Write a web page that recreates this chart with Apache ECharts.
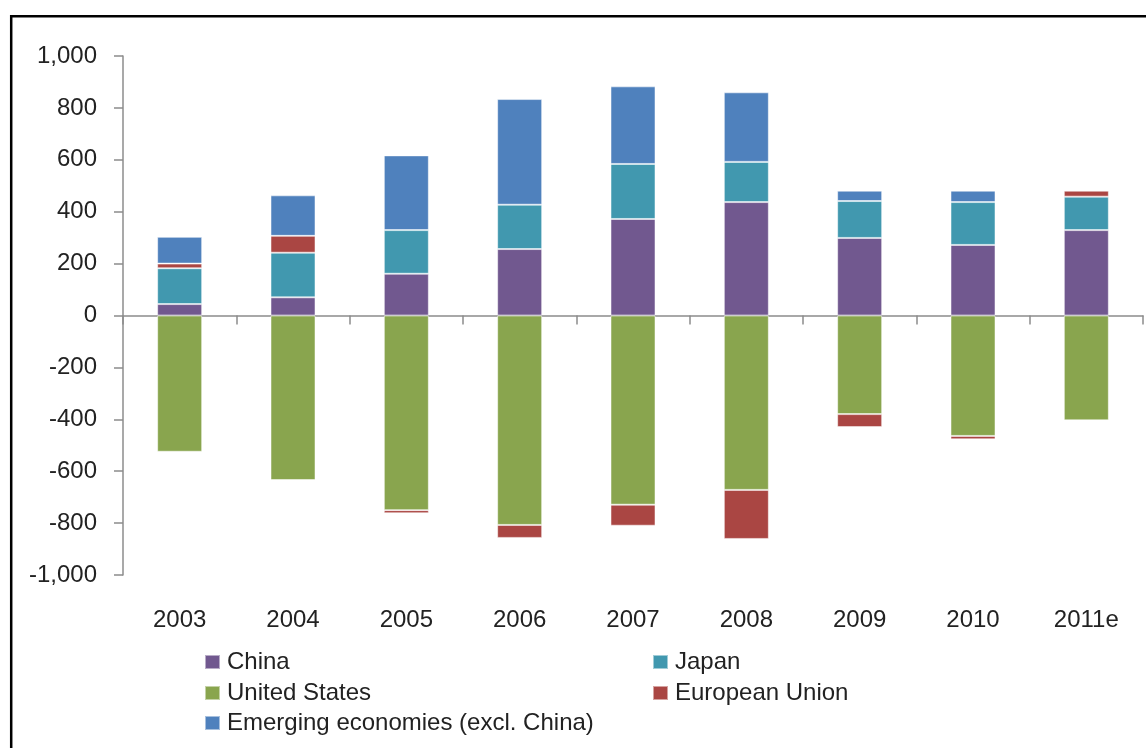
<!DOCTYPE html>
<html>
<head>
<meta charset="utf-8">
<script src="https://cdn.jsdelivr.net/npm/echarts@6/dist/echarts.min.js"></script>
<style>
html,body{margin:0;padding:0;background:#fff;}
#chart{width:1146px;height:748px;}
</style>
</head>
<body>
<div id="chart"></div>
<script>
var categories = ['2003','2004','2005','2006','2007','2008','2009','2010','2011e'];
var china    = [44, 70, 161, 256, 372, 437, 299, 272, 329];
var japan    = [138, 172, 168, 171, 212, 155, 142, 165, 129];
var usa      = [-525, -634, -750, -807, -729, -672, -380, -464, -404];
var eu       = [18, 65, -12, -50, -81, -189, -50, -13, 23];
var emerging = [103, 156, 288, 407, 299, 268, 40, 44, 3];
var yTicks   = [-1000, -800, -600, -400, -200, 0, 200, 400, 600, 800, 1000];

var names = ['China', 'Japan', 'United States', 'European Union', 'Emerging economies (excl. China)'];
var colors = ['#71588F', '#4198AF', '#89A54E', '#AA4643', '#4F81BD'];
var values = [china, japan, usa, eu, emerging];

var FONT = 'Liberation Sans';
var FS = 24;
var chart = echarts.init(document.getElementById('chart'), null, {renderer: 'canvas'});

function mkLegend(name, left, centerY) {
  return {
    data: [name],
    left: left,
    top: centerY - 12,
    orient: 'horizontal',
    padding: 0,
    itemWidth: 15,
    itemHeight: 14,
    icon: 'rect',
    textStyle: {fontFamily: FONT, fontSize: FS, color: '#222', lineHeight: 24, padding: [0, 0, 0, 2]}
  };
}

var series = names.map(function (n, i) {
  return {
    name: n,
    type: 'bar',
    stack: 'total',
    xAxisIndex: 0,
    yAxisIndex: 0,
    barWidth: 45,
    itemStyle: {color: colors[i], borderColor: 'rgba(255,255,255,0.5)', borderWidth: 1},
    emphasis: {disabled: true},
    data: values[i]
  };
});

var option = {
  animation: false,
  color: colors,
  grid: {left: 123, right: 3, top: 56, bottom: 173, containLabel: false},
  legend: [
    mkLegend(names[0], 204, 662),
    mkLegend(names[1], 652, 662),
    mkLegend(names[2], 204, 693),
    mkLegend(names[3], 652, 693),
    mkLegend(names[4], 204, 723)
  ],
  xAxis: [
    {
      type: 'category',
      data: categories,
      position: 'bottom',
      axisLine: {show: false, onZero: false},
      axisTick: {show: false},
      axisLabel: {fontFamily: FONT, fontSize: FS, color: '#222', margin: 33}
    },
    {
      type: 'category',
      data: categories,
      position: 'bottom',
      axisLine: {show: true, onZero: true, lineStyle: {color: '#8c8c8c', width: 1.5}},
      axisTick: {show: true, length: 9, alignWithLabel: false, lineStyle: {color: '#8c8c8c', width: 1.5}},
      axisLabel: {show: false}
    }
  ],
  yAxis: {
    type: 'value',
    min: yTicks[0],
    max: yTicks[yTicks.length - 1],
    interval: 200,
    axisLine: {show: true, lineStyle: {color: '#8c8c8c', width: 1.5}},
    axisTick: {show: true, length: 9, lineStyle: {color: '#8c8c8c', width: 1.5}},
    splitLine: {show: false},
    axisLabel: {
      fontFamily: FONT, fontSize: FS, color: '#222', margin: 26,
      formatter: function (v) { return v.toLocaleString('en-US'); }
    }
  },
  graphic: [{
    type: 'rect',
    silent: true,
    shape: {x: 11.2, y: 16.2, width: 1300, height: 900},
    style: {fill: 'none', stroke: '#000', lineWidth: 2.5}
  }],
  series: series
};
chart.setOption(option);
</script>
</body>
</html>
